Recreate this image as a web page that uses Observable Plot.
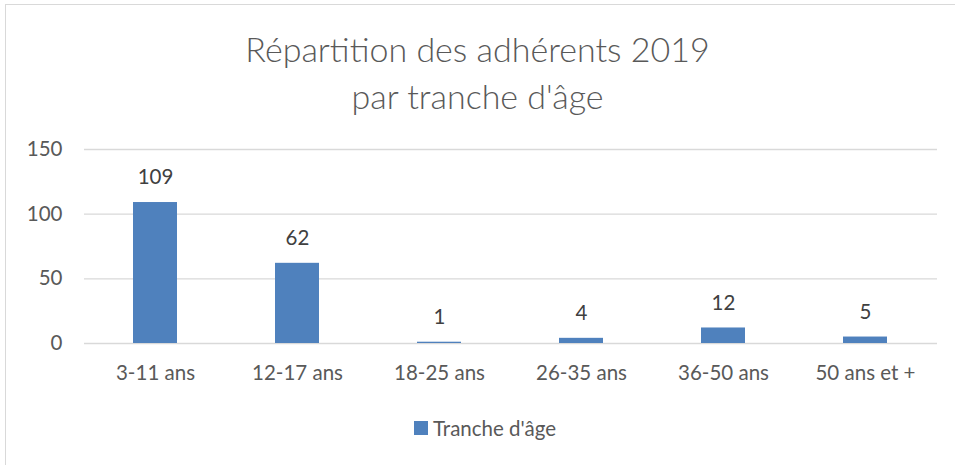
<!DOCTYPE html>
<html><head><meta charset="utf-8">
<script src="https://cdn.jsdelivr.net/npm/d3@7"></script>
<script src="https://cdn.jsdelivr.net/npm/@observablehq/plot@0.6"></script>
<style>
html,body{margin:0;padding:0;overflow:hidden;background:#fff;width:955px;height:465px;}
#frame{position:absolute;left:5px;top:4px;width:970px;height:480px;border:1px solid #d9d9d9;box-sizing:border-box;}
#title{position:absolute;left:0;top:25px;width:955px;text-align:center;font-family:Lato,"Open Sans",sans-serif;font-weight:300;font-size:34px;line-height:47px;color:#595959;}
#chart{position:absolute;left:0;top:130px;}
#legend{position:absolute;left:414px;top:416px;font-family:Lato,"Open Sans",sans-serif;font-size:20.5px;color:#595959;display:flex;align-items:center;}
#legend span.sw{display:inline-block;width:14px;height:14px;background:#4F81BD;margin-right:5px;}
</style></head>
<body>
<div id="frame"></div>
<div id="title">Répartition des adhérents 2019<br>par tranche d'âge</div>
<div id="chart"></div>
<div id="legend"><span class="sw"></span><span>Tranche d'âge</span></div>
<script>
const categories = ["3-11 ans","12-17 ans","18-25 ans","26-35 ans","36-50 ans","50 ans et +"];
const values = [109, 62, 1, 4, 12, 5];
const yTicks = [0, 50, 100, 150];
const seriesName = "Tranche d'âge";

const data = categories.map((c, i) => ({cat: c, val: values[i]}));

const chart = Plot.plot({
  width: 955,
  height: 290,
  marginLeft: 84,
  marginRight: 18,
  marginTop: 19,
  marginBottom: 77,
  style: {fontFamily: "Lato, 'Open Sans', sans-serif", fontSize: "20.5px", color: "#595959", background: "transparent"},
  x: {domain: categories, paddingInner: 0.69, paddingOuter: 0.345, label: null},
  y: {domain: [0, 150], label: null},
  marks: [
    Plot.gridY(yTicks, {stroke: "#d9d9d9", strokeOpacity: 1, strokeWidth: 1.3}),
    Plot.barY(data, {x: "cat", y: "val", fill: "#4F81BD"}),
    Plot.text(data, {x: "cat", y: "val", text: d => String(d.val), dy: -25, fill: "#404040", fontSize: 20.5}),
    Plot.axisX({tickSize: 0, tickPadding: 22, fontSize: 20.5, fill: "#595959"}),
    Plot.axisY(yTicks, {tickSize: 0, tickPadding: 22, fontSize: 20.5, fill: "#595959", label: null})
  ]
});
document.getElementById("chart").appendChild(chart);
</script>
</body></html>
